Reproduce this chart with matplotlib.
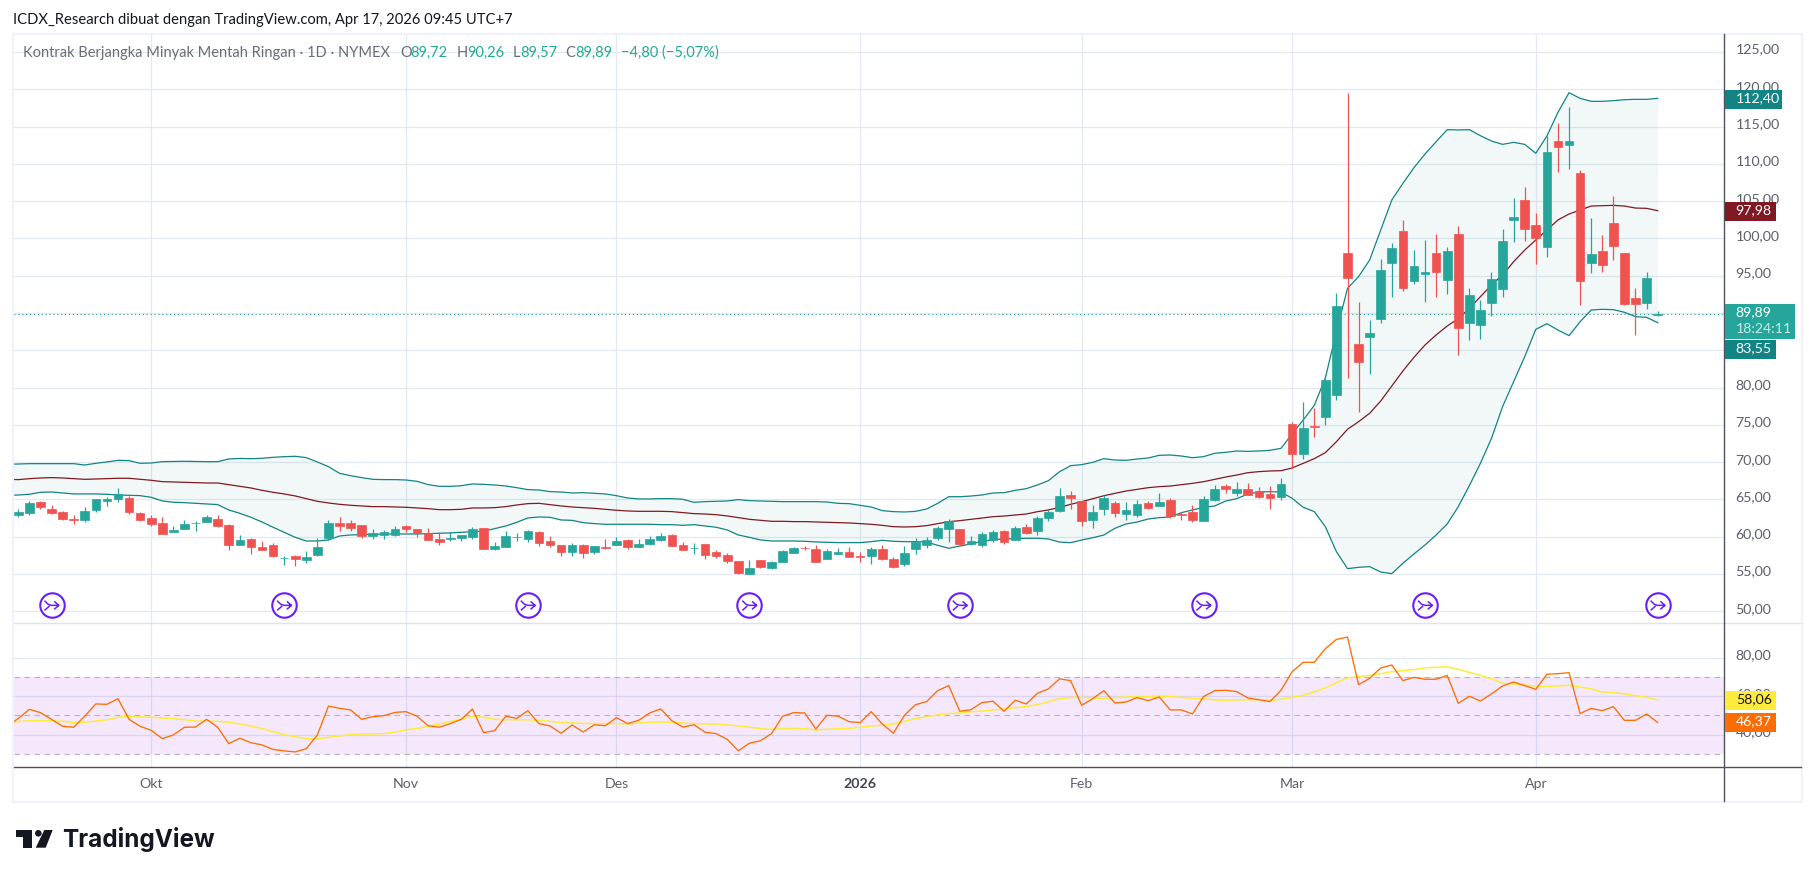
import numpy as np
import matplotlib
matplotlib.use("Agg")
import matplotlib.pyplot as plt
from matplotlib.patches import Rectangle, Polygon
from matplotlib.lines import Line2D
from matplotlib.path import Path

W, H = 1814, 877
FONT = "Lato"
plt.rcParams["font.family"] = [FONT, "DejaVu Sans"]

highs = [63.73,64.80,64.80,64.26,63.46,62.96,63.99,65.07,65.38,66.54,65.47,63.32,62.92,62.65,61.44,62.25,62.12,62.92,62.92,61.71,
 60.24,59.84,59.43,59.16,57.38,57.55,58.09,59.84,62.25,62.65,62.25,61.58,61.04,60.91,61.44,61.58,61.04,61.18,60.64,60.64,
 60.24,61.31,61.18,59.30,60.77,60.51,60.91,60.77,60.10,58.90,59.16,59.03,58.76,59.70,59.97,59.70,59.70,60.10,60.51,60.37,
 59.30,59.16,59.03,58.23,57.82,56.75,56.88,56.88,56.75,58.23,58.63,58.76,58.90,58.36,58.49,58.63,57.96,58.63,58.90,57.29,
 58.76,59.84,59.97,61.44,62.38,61.04,60.10,60.64,60.91,60.91,61.44,61.71,62.79,63.59,66.54,66.14,64.80,64.26,65.60,64.80,
 64.66,64.93,64.80,65.87,65.20,63.32,64.26,65.47,66.94,67.08,67.34,67.21,66.67,66.81,67.88,
 75.35,78.07,77.27,81.30,92.69,119.50,91.48,89.07,97.25,99.39,102.48,98.45,99.79,100.60,98.85,101.67,93.36,91.75,95.50,101.27,
 105.43,106.90,103.41,113.74,115.48,117.63,109.18,102.74,100.46,105.69,98.05,93.36,95.50,90.26]
tops = [63.32,64.53,64.66,63.73,63.32,62.34,63.46,65.07,65.07,65.74,65.20,63.19,62.52,61.85,60.91,61.71,61.85,62.65,62.38,61.58,
 59.57,59.70,58.63,58.90,57.15,57.42,57.29,58.63,61.85,61.85,61.85,61.58,60.51,60.64,61.04,61.44,61.04,60.51,59.70,59.79,
 60.24,61.04,61.18,58.76,60.10,60.01,60.77,60.64,59.43,58.90,58.90,58.90,58.76,58.58,59.43,59.57,59.03,59.70,60.10,60.24,
 58.90,58.49,59.03,57.96,57.55,56.75,55.81,56.88,56.62,58.09,58.49,58.54,58.36,58.09,57.96,57.96,57.38,58.36,58.36,57.02,
 57.82,59.30,59.57,61.18,62.12,61.04,59.43,60.37,60.64,60.77,61.18,61.31,62.52,63.32,65.47,65.60,64.80,63.32,65.20,64.53,
 63.59,64.40,64.53,64.66,64.93,63.05,63.32,65.07,66.41,66.81,66.41,66.41,66.14,65.74,67.08,
 75.12,74.58,74.81,81.02,90.95,98.05,85.85,87.32,95.77,98.72,101.00,96.31,95.50,98.05,98.32,100.60,92.42,90.41,94.56,99.66,
 102.88,105.16,101.81,111.59,113.07,113.07,108.78,97.92,98.32,102.07,98.05,92.02,94.70,89.89]
bottoms = [62.92,63.19,63.99,63.19,62.38,62.29,62.25,63.63,64.80,65.07,63.32,62.25,61.71,60.37,60.64,61.04,61.80,61.98,61.44,58.90,
 58.90,58.63,58.23,57.42,57.11,57.02,56.88,57.55,59.79,61.44,61.18,60.10,60.10,60.24,60.24,61.04,60.51,59.57,59.30,59.75,
 59.84,59.97,58.36,58.36,58.63,59.97,59.70,59.16,58.90,57.96,57.96,57.82,57.96,58.54,58.90,58.63,58.63,59.03,59.57,58.76,
 58.23,58.45,57.55,57.42,56.75,55.14,55.01,55.94,55.81,56.62,57.82,58.45,56.62,57.02,57.69,57.29,57.33,57.42,57.02,55.94,
 56.35,58.36,58.90,59.84,61.04,59.03,59.03,58.90,59.57,59.30,59.57,60.51,60.77,62.52,63.46,65.20,62.12,62.25,63.73,63.19,
 63.05,62.92,63.86,64.13,62.79,62.96,62.25,62.12,64.93,66.41,65.87,65.60,65.33,65.20,65.33,
 71.10,71.10,74.76,76.06,79.01,94.70,83.43,86.79,89.20,96.71,93.36,94.30,95.23,95.50,94.43,87.99,88.66,88.40,91.35,93.22,
 102.48,101.27,100.06,98.86,112.27,112.53,94.30,96.71,96.44,98.99,91.21,91.21,91.35,89.72]
lows = [62.70,62.92,63.77,63.10,62.29,61.76,62.03,63.37,64.17,64.66,63.05,62.12,61.44,60.37,60.64,61.04,60.77,61.98,61.31,58.23,
 58.90,57.69,58.23,57.29,56.21,56.08,56.48,57.42,59.57,60.77,60.77,59.84,59.70,59.70,60.10,60.64,59.97,59.57,58.90,59.43,
 59.43,59.70,58.36,58.23,58.63,59.43,59.30,58.76,58.63,57.42,57.42,57.15,57.69,58.36,58.90,58.36,58.63,58.90,59.43,58.76,
 58.23,57.69,57.02,57.15,56.48,55.01,55.01,55.81,55.68,56.62,57.82,58.23,56.62,57.02,57.69,57.29,56.62,56.35,56.88,55.81,
 56.08,57.69,58.49,59.57,59.30,58.76,58.90,58.63,59.30,59.03,59.57,60.37,60.24,62.12,63.32,63.73,61.44,61.18,62.92,62.65,
 62.25,62.65,63.73,64.13,62.52,62.25,61.98,62.12,64.80,65.87,65.47,65.60,65.20,63.73,64.93,
 69.22,70.43,73.38,74.99,78.34,81.29,76.73,81.82,88.66,92.15,92.96,93.89,91.48,92.15,92.55,84.37,86.38,86.52,89.60,92.15,
 99.53,99.66,96.58,97.51,108.91,109.32,91.08,95.37,95.50,97.11,91.08,87.05,90.54,89.57]
# True where the close is above the open
rising = [1,1,0,0,0,0,1,1,1,1,0,0,0,0,1,1,1,1,0,0,
 1,0,0,0,1,0,1,1,1,0,0,0,1,1,1,0,0,0,0,1,
 1,1,0,1,1,1,1,0,0,0,1,0,1,0,1,0,1,1,1,0,
 0,1,0,0,0,0,1,0,1,1,1,0,0,1,1,0,0,1,0,0,
 1,1,1,1,1,0,1,1,1,0,1,0,1,1,1,0,0,1,1,0,
 1,1,0,1,0,0,0,1,1,0,1,0,0,0,1,
 0,1,0,1,1,0,0,1,1,1,0,1,1,0,1,0,1,1,1,1,
 1,0,0,1,0,1,0,1,0,0,0,0,1,1]

# Bollinger bands; first value belongs to the bar just left of the visible range
bb_upper = [69.71,69.76,69.80,69.80,69.80,69.80,69.80,69.62,69.85,70.03,70.25,70.21,69.85,69.89,70.07,70.09,70.12,70.09,70.07,70.07,70.43,
 70.50,70.47,70.52,70.65,70.74,70.79,70.61,70.03,69.40,68.51,68.19,67.93,67.70,67.66,67.66,67.61,67.43,66.99,66.76,66.76,66.85,
 67.08,67.03,66.94,66.81,66.58,66.32,66.27,66.05,66.00,65.87,65.91,65.83,65.74,65.51,65.20,65.07,65.07,65.11,65.11,65.02,
 64.62,64.71,64.75,64.80,64.98,64.84,64.80,64.75,64.71,64.71,64.71,64.71,64.66,64.48,64.44,64.22,63.99,63.50,63.37,63.32,
 63.41,63.72,64.48,65.37,65.37,65.46,65.60,65.87,65.91,66.22,66.45,66.94,67.52,68.72,69.53,69.67,69.98,70.47,70.29,70.25,
 70.42,70.56,70.92,70.96,70.83,70.60,70.74,71.19,71.32,71.50,71.45,71.50,71.59,71.86,
 73.80,75.66,77.62,81.30,87.50,93.31,94.88,97.11,101.13,105.16,107.39,109.49,111.33,112.98,114.59,114.55,114.59,113.78,113.07,112.62,
 112.89,112.62,111.42,113.74,116.91,119.55,118.79,118.39,118.39,118.48,118.61,118.66,118.66,118.79]
bb_basis = [67.70,67.66,67.79,67.88,67.93,67.88,67.79,67.70,67.75,67.79,67.84,67.84,67.70,67.57,67.39,67.34,67.30,67.26,67.21,67.21,66.99,
 66.76,66.54,66.23,65.96,65.74,65.47,65.11,64.75,64.53,64.35,64.22,64.13,64.04,64.04,63.99,63.95,63.86,63.77,63.63,63.63,63.68,
 63.86,63.86,63.90,64.04,64.26,64.44,64.48,64.31,64.13,63.99,63.90,63.81,63.68,63.55,63.46,63.41,63.41,63.41,63.37,63.23,
 63.10,63.05,62.96,62.79,62.56,62.34,62.20,62.07,62.07,62.03,62.03,61.98,61.94,61.89,61.85,61.76,61.67,61.53,61.35,61.31,
 61.35,61.49,61.75,62.02,62.16,62.33,62.51,62.69,62.78,62.91,63.05,63.36,63.59,63.94,64.35,64.70,65.10,65.50,65.82,66.13,
 66.35,66.58,66.72,66.80,66.98,67.16,67.38,67.70,68.01,68.28,68.59,68.73,68.82,68.86,
 69.22,69.85,70.47,71.28,72.75,74.41,75.43,76.55,78.21,80.22,82.23,84.06,85.72,87.06,88.26,89.24,90.63,92.20,93.76,95.10,
 96.89,98.45,99.79,101.13,102.48,103.28,103.82,104.35,104.40,104.44,104.35,104.08,104.04,103.73]
bb_lower = [65.55,65.60,65.69,65.96,66.00,65.87,65.74,65.74,65.74,65.69,65.60,65.56,65.51,65.29,64.80,64.62,64.57,64.48,64.40,64.31,63.59,
 63.14,62.61,61.98,61.27,60.59,59.92,59.43,59.43,59.57,60.10,60.24,60.28,60.33,60.37,60.37,60.37,60.37,60.42,60.46,60.51,60.59,
 60.68,60.73,61.09,61.44,61.93,62.52,62.65,62.61,62.25,62.20,61.89,61.76,61.67,61.67,61.67,61.67,61.67,61.62,61.62,61.53,
 61.62,61.44,61.27,60.91,60.24,59.92,59.57,59.43,59.43,59.43,59.39,59.30,59.25,59.21,59.21,59.21,59.34,59.52,59.39,59.34,
 59.34,59.29,58.85,58.45,58.76,59.03,59.38,59.60,59.70,59.74,59.79,59.79,59.70,59.29,59.20,59.56,59.87,60.23,61.13,61.71,
 61.97,62.38,62.56,62.65,63.23,63.59,63.94,64.12,64.79,65.10,65.73,66.00,66.04,66.00,
 65.15,63.95,63.37,61.35,58.00,55.72,55.90,55.99,55.27,55.05,56.44,57.69,58.90,60.24,61.71,64.04,66.85,69.85,73.20,77.45,
 80.80,84.15,87.81,88.57,87.72,86.97,88.84,90.41,90.50,90.45,90.10,89.51,89.42,88.71]

# RSI and its average; first value belongs to the bar just left of the visible range
rsi = [44.2,48.5,53.2,51.5,48.0,44.4,43.9,49.7,56.0,55.8,58.7,48.0,44.4,42.3,38.0,39.9,43.9,44.0,48.0,43.9,35.4,
 38.2,35.9,34.7,32.4,31.6,31.1,32.8,39.9,54.9,53.7,52.9,48.0,49.4,49.9,51.6,52.0,49.6,44.7,43.9,45.8,48.0,
 53.4,41.1,42.1,49.6,48.5,52.5,45.8,44.6,40.8,45.1,41.4,45.2,
 44.7,48.9,45.8,47.5,51.3,53.4,47.3,44.0,45.2,41.3,40.6,37.6,31.7,35.6,36.9,40.6,49.6,51.5,51.3,43.0,50.1,49.7,
 46.8,46.3,52.0,45.6,40.8,50.1,55.6,57.2,62.9,65.5,52.2,53.0,56.7,57.4,52.2,57.9,56.0,61.5,63.8,69.0,68.1,55.3,
 58.7,62.9,56.5,57.0,59.3,57.7,59.6,52.9,52.9,50.8,
 59.8,62.9,63.1,62.4,59.1,58.2,57.2,63.1,72.7,77.6,77.6,84.7,89.5,90.7,66.0,69.3,74.7,76.2,68.1,69.8,68.8,68.8,70.8,56.3,
 60.0,57.5,61.2,65.3,67.4,65.5,63.6,71.4,71.7,72.2,51.0,53.7,52.5,54.6,47.5,47.5,50.8,46.37]
rsi_ma = [46.3,46.8,47.3,47.3,47.3,47.0,46.3,46.5,47.1,47.8,49.1,49.6,49.2,49.1,48.7,48.4,47.8,47.1,47.0,47.0,46.5,
 45.6,44.6,43.2,41.6,40.1,39.0,38.0,37.8,38.7,39.4,40.1,40.4,40.4,40.6,41.4,42.5,43.3,44.4,45.6,46.8,48.2,
 49.6,49.1,48.0,47.8,47.8,47.8,47.5,47.0,46.3,46.1,45.9,45.8,
 45.8,45.8,45.6,46.1,46.5,46.6,46.5,46.1,45.8,45.6,45.6,45.1,44.6,43.9,43.2,42.8,43.2,43.3,43.2,42.5,42.8,43.2,
 43.3,43.9,44.6,44.9,45.6,47.0,48.4,49.4,50.3,51.0,51.3,52.0,52.3,52.9,53.4,54.1,54.6,55.6,57.2,58.7,59.3,59.4,
 59.1,58.9,59.3,59.6,59.6,59.8,60.0,59.8,59.4,58.9,
 58.7,58.1,57.9,58.1,58.2,58.2,57.9,58.4,59.4,60.5,62.2,64.4,67.0,69.5,70.2,70.8,71.7,72.7,73.3,73.8,74.7,75.0,75.3,74.0,
 72.4,70.8,69.1,66.7,66.4,65.8,65.3,65.1,65.3,65.7,64.8,63.8,62.2,61.9,61.2,60.3,59.4,58.06]

month_bars = [12, 35, 54, 76, 96, 115, 137]
month_labels = ["Okt", "Nov", "Des", "2026", "Feb", "Mar", "Apr"]
price_ticks = list(range(50, 130, 5))
rsi_ticks = [40, 60, 80]
rsi_levels = [30, 50, 70]
event_bars = [3, 24, 46, 66, 85, 107, 127, 148]
event_price = 50.8
last_close = 89.89

GREEN, RED = "#26a69a", "#ef5350"
TEAL, MAROON = "#138484", "#801922"
GRID = "#e2e9f0"
TICK = "#5d606b"
PURPLE = "#6a1cff"
ORANGE, YELLOW = "#ff6d00", "#ffeb3b"

def fx(x): return x / W
def fy(y): return 1 - y / H
def rect(x0, y0, x1, y1):
    return [fx(x0), fy(y1), (x1 - x0) / W, (y1 - y0) / H]

fig = plt.figure(figsize=(W / 100, H / 100), dpi=100, facecolor="white")
ax = fig.add_axes(rect(13.5, 34, 1724, 622.5))
ar = fig.add_axes(rect(13.5, 622.5, 1724, 767))
XLIM = (-0.433, 153.99)

n = len(highs)
x = np.arange(n)
bx = np.arange(-1, n)
tops_a, bottoms_a = np.array(tops), np.array(bottoms)
colors = [GREEN if r else RED for r in rising]

ax.fill_between(bx, bb_lower, bb_upper, color="#0a7a7a", alpha=0.05, lw=0, zorder=1)
ax.plot(bx, bb_upper, color=TEAL, lw=0.9, zorder=2)
ax.plot(bx, bb_lower, color=TEAL, lw=0.9, zorder=2)
ax.plot(bx, bb_basis, color=MAROON, lw=0.9, zorder=2)
ax.axhline(last_close, color=GREEN, lw=0.8, ls=(0, (1, 2.5)), zorder=1.5)
ax.vlines(x, lows, highs, colors=colors, lw=0.9, zorder=3)
ax.bar(x, tops_a - bottoms_a, bottom=bottoms_a, width=0.78, color=colors,
       edgecolor=colors, linewidth=0.5, zorder=4)

arrow = Path([(-21, 14), (-10, 3), (0, 0), (22, 0), (8, 12), (22, 0), (8, -12), (-21, -15), (-6, -2)],
             [Path.MOVETO, Path.LINETO, Path.LINETO, Path.LINETO, Path.MOVETO, Path.LINETO, Path.LINETO,
              Path.MOVETO, Path.LINETO])
ev_y = [event_price] * len(event_bars)
ax.scatter(event_bars, ev_y, s=310, marker="o", facecolor="white", edgecolor=PURPLE, linewidths=1.5, zorder=5)
ax.scatter(event_bars, ev_y, s=112, marker=arrow, facecolor="none", edgecolor=PURPLE, linewidths=1.1, zorder=6)

ax.set_xlim(*XLIM)
ax.set_ylim(48.50, 127.42)
ax.set_yticks(price_ticks)

ar.axhspan(30, 70, color="#a020f0", alpha=0.10, lw=0, zorder=2)
for lv in rsi_levels:
    ar.axhline(lv, color="#b9b1bf", lw=0.8, ls=(0, (5, 4)), zorder=3)
ar.plot(bx, rsi_ma, color=YELLOW, lw=1.1, zorder=4)
ar.plot(bx, rsi, color=ORANGE, lw=0.95, zorder=5)
ar.set_xlim(*XLIM)
ar.set_ylim(23.27, 98.26)
ar.set_yticks(rsi_ticks)

for a in (ax, ar):
    for s in a.spines.values():
        s.set_visible(False)
    a.set_facecolor("white")
    a.set_xticks(month_bars)
    a.grid(True, color=GRID, lw=0.9, zorder=0)
    a.set_axisbelow(True)
    a.tick_params(axis="both", length=0, labelbottom=False, labelleft=False, labelright=False)
    for v in a.get_yticks():
        a.annotate(f"{v:.2f}".replace(".", ","), xy=(1, v), xycoords=("axes fraction", "data"),
                   xytext=(8.4, 1.8), textcoords="offset points", ha="left", va="center",
                   fontsize=10.2, color=TICK, annotation_clip=False)

# x labels in the strip below the RSI pane
for b, lab in zip(month_bars, month_labels):
    ar.annotate(lab, xy=(b, 0), xycoords=("data", "axes fraction"), xytext=(0, -(784 - 767) * 0.72),
                textcoords="offset points", ha="center", va="center", fontsize=10.2,
                color="#434651" if lab == "2026" else TICK, fontweight="bold" if lab == "2026" else "normal")

# frame
def add_line(x0, y0, x1, y1, color, lw, z=8):
    fig.add_artist(Line2D([fx(x0), fx(x1)], [fy(y0), fy(y1)], color=color, lw=lw, zorder=z, transform=fig.transFigure))
FRAME = "#f0f3fa"
fig.add_artist(Rectangle((fx(12.5), fy(802)), (1802 - 12.5) / W, (802 - 33.5) / H, transform=fig.transFigure,
                         fill=False, ec=FRAME, lw=1.7, zorder=7))
add_line(13.5, 622.5, 1801, 622.5, "#e0e3eb", 1.0)
add_line(13.5, 767, 1801, 767, "#50535e", 1.0)
add_line(1724.3, 34, 1724.3, 801, "#50535e", 1.0)

# value tags
def tag(x1, y0, y1, color):
    fig.add_artist(Rectangle((fx(1724.8), fy(y1)), (x1 - 1724.8) / W, (y1 - y0) / H, transform=fig.transFigure,
                             fc=color, ec="none", zorder=10))
def tag_text(s, yc, color, size=10.2, weight="normal"):
    fig.text(fx(1735.7), fy(yc), s, ha="left", va="center", color=color, fontsize=size, fontweight=weight, zorder=11)
tag(1782, 90, 109, TEAL); tag_text("112,40", 98.5, "white")
tag(1776, 202, 221, MAROON); tag_text("97,98", 210.5, "white")
tag(1795, 304, 338.5, GREEN); tag_text("89,89", 312, "white"); tag_text("18:24:11", 328.5, "#c5ebe6")
tag(1776, 340, 359, TEAL); tag_text("83,55", 348.5, "white")
tag(1776, 691, 710, YELLOW); tag_text("58,06", 699.5, "#131722")
tag(1776, 713, 732, ORANGE); tag_text("46,37", 721.5, "white")

# header and legend
fig.text(fx(13), fy(20), "ICDX_Research dibuat dengan TradingView.com, Apr 17, 2026 09:45 UTC+7",
         fontsize=10.65, color="#131722", va="center", ha="left")
LEG = "#6a6d78"
LEGV = "#22ab94"
leg_parts = [(23, "Kontrak Berjangka Minyak Mentah Ringan · 1D · NYMEX", LEG), (400.5, "O", LEG), (410, "89,72", LEGV),
             (456.6, "H", LEG), (467, "90,26", LEGV), (513, "L", LEG), (520, "89,57", LEGV),
             (565, "C", LEG), (575.5, "89,89", LEGV), (621.4, "−4,80 (−5,07%)", LEGV)]
for px, s, c in leg_parts:
    fig.text(fx(px), fy(53), s, fontsize=10.55, color=c, va="center", ha="left", zorder=12)

# TradingView logo
LOGO = "#131722"
def px_poly(pts):
    fig.add_artist(Polygon([(fx(a), fy(b)) for a, b in pts], closed=True, transform=fig.transFigure, fc=LOGO, ec="none"))
px_poly([(15.7, 830), (31.7, 830), (31.7, 847.7), (23.3, 847.7), (23.3, 836.7), (15.7, 836.7)])
px_poly([(44.3, 830), (52.7, 830), (45.7, 847.7), (35.7, 847.7)])
fig.add_artist(Polygon([(fx(38.3 + 3.3 * np.cos(t)), fy(833.3 + 3.3 * np.sin(t))) for t in np.linspace(0, 2 * np.pi, 30)],
                       closed=True, transform=fig.transFigure, fc=LOGO, ec="none"))
fig.text(fx(62), fy(846.7), "TradingView", family=["Inter", "DejaVu Sans"], fontsize=17.5, fontweight="bold",
         color=LOGO, ha="left", va="baseline")

fig.savefig("out.png", dpi=100, facecolor="white")
